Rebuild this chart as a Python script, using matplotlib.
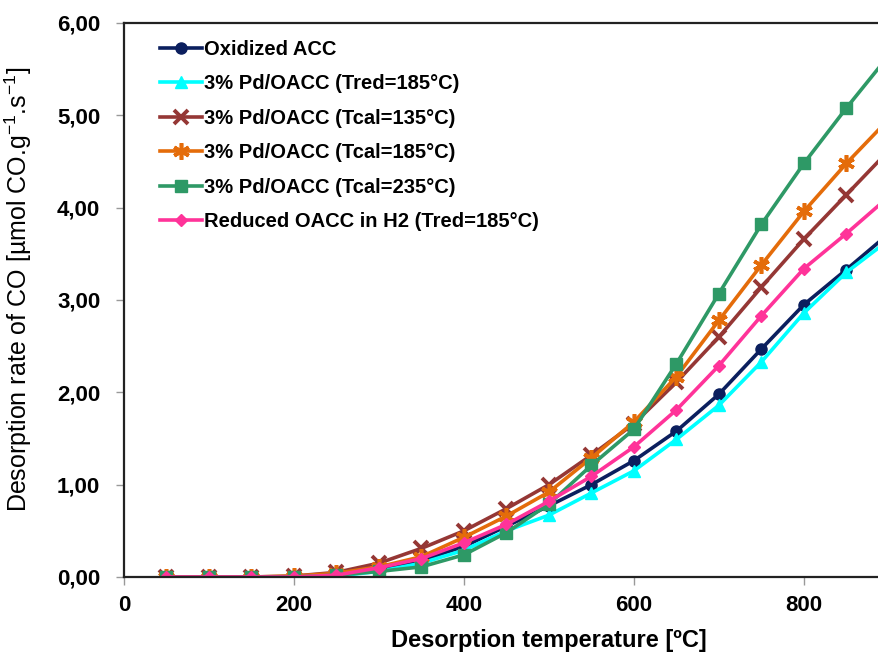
import matplotlib
matplotlib.use("Agg")
import matplotlib.pyplot as plt
from matplotlib.ticker import FuncFormatter

plt.rcParams['font.family'] = ['Liberation Sans', 'DejaVu Sans']

# Desorption temperature [°C]
temperature = [50, 100, 150, 200, 250, 300, 350, 400, 450, 500, 550,
               600, 650, 700, 750, 800, 850, 900]

oxidized_acc = [0.00, 0.00, 0.00, 0.00, 0.02, 0.07, 0.18, 0.33, 0.55, 0.77, 1.00,
                1.26, 1.58, 1.98, 2.47, 2.95, 3.33, 3.72]
pd_tred_185 = [0.00, 0.00, 0.00, 0.00, 0.01, 0.06, 0.15, 0.29, 0.50, 0.67, 0.91,
               1.15, 1.49, 1.86, 2.33, 2.86, 3.30, 3.65]
pd_tcal_135 = [0.00, 0.00, 0.00, 0.01, 0.05, 0.15, 0.31, 0.50, 0.74, 1.00, 1.32,
               1.66, 2.11, 2.60, 3.14, 3.66, 4.14, 4.62]
pd_tcal_185 = [0.00, 0.00, 0.00, 0.01, 0.04, 0.11, 0.22, 0.43, 0.66, 0.92, 1.29,
               1.68, 2.17, 2.78, 3.38, 3.96, 4.48, 4.96]
pd_tcal_235 = [0.00, 0.00, 0.00, 0.00, 0.02, 0.06, 0.11, 0.24, 0.48, 0.79, 1.21,
               1.60, 2.31, 3.07, 3.82, 4.48, 5.08, 5.65]
reduced_oacc_h2 = [0.00, 0.00, 0.00, 0.00, 0.02, 0.10, 0.20, 0.37, 0.57, 0.82, 1.09,
                   1.41, 1.81, 2.29, 2.83, 3.34, 3.72, 4.12]

x_ticks = [0, 200, 400, 600, 800]
y_ticks = [0, 1, 2, 3, 4, 5, 6]

labels = ["Oxidized ACC",
          "3% Pd/OACC (Tred=185°C)",
          "3% Pd/OACC (Tcal=135°C)",
          "3% Pd/OACC (Tcal=185°C)",
          "3% Pd/OACC (Tcal=235°C)",
          "Reduced OACC in H2 (Tred=185°C)"]

series = [oxidized_acc, pd_tred_185, pd_tcal_135, pd_tcal_185, pd_tcal_235, reduced_oacc_h2]
colors = ["#0b1f5e", "#00ffff", "#953735", "#e46c0a", "#2e9966", "#ff3399"]
markers = ["o", "^", "x", (6, 2, 0), "s", "D"]
msizes = [8, 9, 10, 12, 8, 6]
medges = [1.0, 1.0, 2.8, 2.6, 1.0, 1.0]

fig = plt.figure(figsize=(8.79, 6.53), dpi=100)
ax = fig.add_axes([0.141, 0.1164, 0.967, 0.8484])

for y, lab, c, m, ms, mew in zip(series, labels, colors, markers, msizes, medges):
    ax.plot(temperature, y, color=c, lw=2.6, marker=m, markersize=ms,
            markeredgewidth=mew, markerfacecolor=c, markeredgecolor=c,
            label=lab, solid_joinstyle='round')

ax.set_xlim(0, 1000)
ax.set_ylim(0, 6)
ax.set_xticks(x_ticks)
ax.set_yticks(y_ticks)
ax.yaxis.set_major_formatter(FuncFormatter(lambda v, p: f"{v:.2f}".replace(".", ",")))

for s in ax.spines.values():
    s.set_linewidth(1.6)
    s.set_color("#222222")

ax.tick_params(axis='both', direction='out', length=6, width=1, color="#999999",
               labelsize=16)
ax.tick_params(axis='y', pad=11)
ax.tick_params(axis='x', pad=7)
for t in ax.get_xticklabels() + ax.get_yticklabels():
    t.set_fontweight('bold')

ax.set_xlabel("Desorption temperature [ºC]", fontsize=17, fontweight='bold', labelpad=9)
ax.set_ylabel("Desorption rate of CO [µmol CO.g$^{\\mathregular{-1}}$.s$^{\\mathregular{-1}}$]",
              fontsize=18)
ax.yaxis.set_label_coords(-0.106, 0.52)

leg = ax.legend(loc='upper left', bbox_to_anchor=(0.026, 0.995), frameon=False,
                prop={'weight': 'bold', 'size': 14.5}, handlelength=2.1,
                handletextpad=0.1, labelspacing=0.77, borderaxespad=0.3)

fig.savefig("out.png", dpi=100)
